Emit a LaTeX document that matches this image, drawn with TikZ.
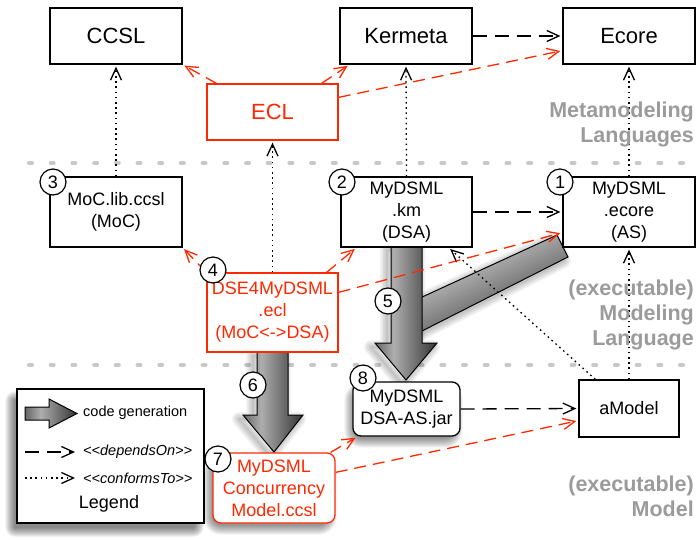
\documentclass[tikz,border=0pt]{standalone}
\usepackage{fontspec}
\setmainfont{Liberation Sans}
\usetikzlibrary{arrows.meta}
\definecolor{eclred}{RGB}{255,40,0}
\definecolor{lblgray}{RGB}{155,155,155}
\definecolor{sepgray}{RGB}{200,200,200}
\pgfdeclarehorizontalshading{cgshade}{100bp}{color(0bp)=(black!60); color(25bp)=(black!60); color(40bp)=(black!32); color(75bp)=(black!80); color(100bp)=(black!80)}
\pgfdeclarelayer{bg}
\pgfdeclarelayer{cgl}
\pgfdeclarelayer{conn}
\pgfsetlayers{bg,cgl,conn,main}
\newcommand\cgsix{(257,352) -- (288,352) -- (288,415) -- (303,415) -- (274,452) -- (243,415) -- (257,415) -- cycle}
\newcommand\cgfivev{(391,246) -- (422,246) -- (422,343) -- (437,343) -- (406,380) -- (375,343) -- (391,343) -- cycle}
\newcommand\cgfiveb{(420,298) -- (557,235) -- (568,257) -- (420,332) -- cycle}
\newcommand\cglegend{(25,407) -- (49,407) -- (49,399) -- (77,413.5) -- (49,428) -- (49,420) -- (25,420) -- cycle}
\newcommand\boxshadow[5]{%
  \foreach \k in {1,...,10}{%
    \fill[black, opacity=#5, rounded corners={#4+\k*1pt}]
      ([xshift={#2+5pt-\k*1pt}, yshift={#3+5pt-\k*1pt}]#1.south west) rectangle
      ([xshift={#2-5pt+\k*1pt}, yshift={#3-5pt+\k*1pt}]#1.north east);
  }}
\begin{document}
\begin{tikzpicture}[x=1pt,y=-1pt,
  box/.style={draw=black, line width=1.3pt, fill=white, align=center, inner sep=0pt, font=\fontsize{18}{22}\selectfont},
  topbox/.style={box, font=\fontsize{22}{26}\selectfont},
  redbox/.style={draw=eclred, text=eclred},
  num/.style={circle, draw=black, line width=1.2pt, fill=white, minimum size=26pt, inner sep=0pt, font=\fontsize{18}{18}\selectfont},
  tip/.style={-{Straight Barb[length=12pt,width=11pt]}, shorten >=2pt},
  conf/.style={tip, line width=1.3pt, dash pattern=on 1.6pt off 3.6pt},
  dep/.style={tip, line width=1.3pt, dash pattern=on 14pt off 8pt},
  rdep/.style={dep, draw=eclred, dash pattern=on 12pt off 7pt},
  lbl/.style={text=lblgray, font=\fontsize{21.5}{25}\selectfont\bfseries, align=right, anchor=east, inner sep=0pt},
  sepline/.style={sepgray, line width=4pt, line cap=round, dash pattern=on 3pt off 18.7pt},
  legtext/.style={anchor=west, inner sep=0pt, font=\fontsize{14.5}{17}\selectfont}
]
\useasboundingbox (0,0) rectangle (696,539);

% ---- boxes ----
\node[topbox, minimum width=132pt, minimum height=56pt] (ccsl) at (116,36) {CCSL};
\node[topbox, minimum width=132pt, minimum height=56pt] (kermeta) at (406,36) {Kermeta};
\node[topbox, minimum width=132pt, minimum height=56pt] (ecore) at (629,36) {Ecore};
\node[topbox, redbox, minimum width=131pt, minimum height=56pt] (ecl) at (272.5,112) {ECL};
\node[box, minimum width=132pt, minimum height=70pt] (moc) at (116,212) {MoC.lib.ccsl\\(MoC)};
\node[box, minimum width=131pt, minimum height=70pt] (km) at (406.5,212) {MyDSML\\.km\\(DSA)};
\node[box, minimum width=132pt, minimum height=70pt] (ecoreb) at (629,212) {MyDSML\\.ecore\\(AS)};
\node[box, redbox, minimum width=131pt, minimum height=79pt] (dse) at (272.5,312.5) {DSE4MyDSML\\.ecl\\(MoC<->DSA)};
\node[box, rounded corners=8pt, minimum width=107pt, minimum height=54pt] (jar) at (406.5,409) {MyDSML\\DSA-AS.jar};
\node[box, minimum width=100pt, minimum height=57pt] (amodel) at (629,408.5) {aModel};
\node[box, redbox, rounded corners=8pt, minimum width=122pt, minimum height=70pt] (conc) at (274,488) {MyDSML\\Concurrency\\Model.ccsl};
\node[draw=black, line width=1.5pt, fill=white, minimum width=187pt, minimum height=134pt, inner sep=0pt] (legend) at (110.5,456) {};

% ---- legend contents ----
\node[legtext] (lcg) at (83,413) {code generation};
\node[legtext] (ldep) at (83,452) {\itshape <{}<dependsOn>{}>};
\node[legtext] (lconf) at (83,478) {\itshape <{}<conformsTo>{}>};
\node[inner sep=0pt, font=\fontsize{18}{22}\selectfont] (ltitle) at (109,504) {Legend};
\coordinate (lda) at (25,452);
\coordinate (ldb) at (77,452);
\coordinate (lca) at (25,478);
\coordinate (lcb) at (77,478);
\shadedraw[shading=cgshade, draw=black, line width=1pt] \cglegend;
\draw[dep] (lda) -- (ldb);
\draw[conf] (lca) -- (lcb);

% ---- number circles ----
\node[num] (n1) at (560,182) {1};
\node[num] (n2) at (342,182) {2};
\node[num] (n3) at (53,182) {3};
\node[num] (n4) at (213,270) {4};
\node[num] (n5) at (388,301) {5};
\node[num] (n6) at (253,385) {6};
\node[num] (n7) at (218,459) {7};
\node[num] (n8) at (363,378) {8};

% ---- layer labels ----
\node[lbl] (lmeta) at (694,124) {Metamodeling\\Languages};
\node[lbl] (lmod) at (694,315) {(executable)\\Modeling\\Language};
\node[lbl] (lmodel) at (694,496.5) {(executable)\\Model};

% ---- background: separators and shadows ----
\begin{pgfonlayer}{bg}
  \draw[sepline] (29,163) -- (696,163);
  \draw[sepline] (29,365) -- (696,365);
  \boxshadow{jar}{-3pt}{-6pt}{8pt}{0.05}
  \boxshadow{conc}{-4pt}{-6pt}{8pt}{0.05}
  \boxshadow{legend}{-6pt}{-8pt}{0pt}{0.06}
\end{pgfonlayer}

% ---- code generation arrows ----
\begin{pgfonlayer}{cgl}
  \begin{scope}[shift={(-4,4)}]
    \foreach \w in {2,5,8,11,14}{\draw[black, opacity=0.05, line width=\w pt, line join=round] \cgsix;}
    \foreach \w in {2,5,8,11,14}{\draw[black, opacity=0.05, line width=\w pt, line join=round] \cgfiveb;}
    \foreach \w in {2,5,8,11,14}{\draw[black, opacity=0.05, line width=\w pt, line join=round] \cgfivev;}
  \end{scope}
  \shadedraw[shading=cgshade, draw=black, line width=1pt] \cgsix;
  \shadedraw[shading=cgshade, shading angle=-64, draw=black, line width=1pt] \cgfiveb;
  \shadedraw[shading=cgshade, draw=black, line width=1pt] \cgfivev;
\end{pgfonlayer}

% ---- connectors ----
\begin{pgfonlayer}{conn}
  % conformsTo
  \draw[conf] (moc.north) -- (ccsl.south);
  \draw[conf] (dse.north) -- (ecl.south);
  \draw[conf] (km.north) -- (kermeta.south);
  \draw[conf] (ecoreb.north) -- (ecore.south);
  \draw[conf] (amodel.north) -- (ecoreb.south);
  \draw[conf] ([xshift=17pt]amodel.north west) -- ([xshift=-24pt]km.south east);
  % dependsOn
  \draw[dep] (kermeta.east) -- (ecore.west);
  \draw[dep] (km.east) -- (ecoreb.west);
  \draw[dep] (jar.east) -- (amodel.west);
  % red dependsOn
  \draw[rdep] ([xshift=10pt]ecl.north west) -- (ccsl.south east);
  \draw[rdep] ([xshift=-17pt]ecl.north east) -- ([xshift=10pt]kermeta.south west);
  \draw[rdep] ([yshift=-14pt]ecl.north east) -- ([yshift=14pt]ecore.south west);
  \draw[rdep] (dse.north west) -- (moc.south east);
  \draw[rdep] ([xshift=-12pt]dse.north east) -- ([xshift=16pt]km.south west);
  \draw[rdep] ([yshift=-20pt]dse.north east) -- ([yshift=15pt]ecoreb.south west);
  \draw[rdep] ([xshift=-5pt]conc.north east) -- ([xshift=5pt]jar.south west);
  \draw[rdep] ([yshift=-20pt]conc.north east) -- ([yshift=17pt]amodel.south west);
\end{pgfonlayer}
\end{tikzpicture}
\end{document}
